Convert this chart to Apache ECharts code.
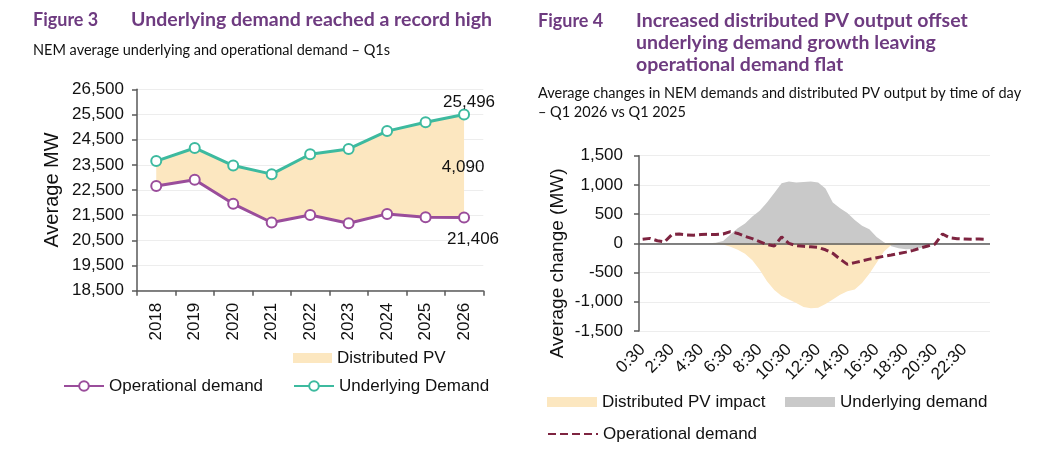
<!DOCTYPE html>
<html><head><meta charset="utf-8">
<script src="https://cdn.jsdelivr.net/npm/echarts@6/dist/echarts.min.js"></script>
<style>html,body{margin:0;padding:0;background:#fff}#c{width:1059px;height:466px}</style>
</head><body><div id="c"></div>
<script>
// ---- Figure 3 data ----
const years = ['2018','2019','2020','2021','2022','2023','2024','2025','2026'];
const operationalDemand = [22660, 22910, 21950, 21210, 21510, 21180, 21550, 21420, 21406];
const underlyingDemand = [23650, 24170, 23470, 23130, 23920, 24130, 24840, 25190, 25496];

// ---- Figure 4 data ----
const times = ['0:30','1:00','1:30','2:00','2:30','3:00','3:30','4:00','4:30','5:00','5:30','6:00',
  '6:30','7:00','7:30','8:00','8:30','9:00','9:30','10:00','10:30','11:00','11:30','12:00',
  '12:30','13:00','13:30','14:00','14:30','15:00','15:30','16:00','16:30','17:00','17:30','18:00',
  '18:30','19:00','19:30','20:00','20:30','21:00','21:30','22:00','22:30','23:00','23:30','0:00'];
const underlyingChange = [0,0,0,0,0,0,0,0,0,0,10,40,
  150,260,340,460,560,700,860,1030,1060,1040,1050,1060,
  1040,940,700,600,520,400,300,240,110,20,-50,-85,
  -100,-95,-80,-45,-5,0,0,0,0,0,0,0];
const pvImpact = [0,0,0,0,0,0,0,0,0,0,-5,-20,
  -60,-110,-180,-290,-450,-650,-800,-900,-960,-1020,-1090,-1110,
  -1100,-1040,-960,-880,-820,-790,-680,-520,-330,-140,-30,0,
  0,0,0,0,0,0,0,0,0,0,0,0];
const operationalChange = [70,85,45,25,150,160,145,140,150,155,150,160,
  200,170,120,80,30,-20,-45,110,0,-40,-50,-60,
  -70,-110,-170,-270,-360,-330,-300,-270,-245,-220,-200,-175,
  -150,-120,-80,-45,-10,160,95,80,75,70,75,70];

const pvGap = underlyingDemand.map((u, i) => u - operationalDemand[i]);

const fmt = v => String(v).replace(/\B(?=(\d{3})+(?!\d))/g, ',');
const AX = '#595959';
const TXT = '#111';
const FF = 'Liberation Sans';
const PURPLE_T = '#6E3B80';
const TEAL = '#3DBA9F';
const PURP = '#9A4D9B';
const CREAM = '#FCE7C0';
const GRAY = '#C9C9C9';
const DASH = '#7E2440';
const TF = 'bold 19.5px Lato';
const FIGF = 'bold 18px Lato';
const SF = '14.5px Lato';

function leg(name, left, cy, opts) {
  return Object.assign({
    data: [name], left: left, top: cy - 10, padding: 0, itemGap: 0,
    selectedMode: false,
    textStyle: {fontFamily: FF, fontSize: 17, lineHeight: 20, color: TXT}
  }, opts);
}
function lastLabel(arr, lab) {
  return arr.map((v, i) => i === arr.length - 1 ? {value: v, label: Object.assign({show: true, formatter: p => fmt(p.value), fontFamily: FF, fontSize: 17, color: TXT}, lab)} : v);
}

const chart = echarts.init(document.getElementById('c'));
chart.setOption({
  backgroundColor: '#fff',
  animation: false,
  graphic: [
    {type:'text', left: 33, top: 11, style:{text:'Figure 3', font: FIGF, fill: PURPLE_T}},
    {type:'text', left: 131, top: 10, style:{text:'Underlying demand reached a record high', font: TF, fill: PURPLE_T}},
    {type:'text', left: 33, top: 43, style:{text:'NEM average underlying and operational demand \u2013 Q1s', font: SF, fill: TXT}},
    {type:'text', left: 538, top: 12, style:{text:'Figure 4', font: FIGF, fill: PURPLE_T}},
    {type:'text', left: 636, top: 11, style:{text:'Increased distributed PV output offset', font: TF, fill: PURPLE_T}},
    {type:'text', left: 636, top: 33, style:{text:'underlying demand growth leaving', font: TF, fill: PURPLE_T}},
    {type:'text', left: 636, top: 55, style:{text:'operational demand flat', font: TF, fill: PURPLE_T}},
    {type:'text', left: 538, top: 86, style:{text:'Average changes in NEM demands and distributed PV output by time of day', font: SF, fill: TXT}},
    {type:'text', left: 538, top: 105, style:{text:'\u2013 Q1 2026 vs Q1 2025', font: SF, fill: TXT}}
  ],
  legend: [
    leg('Distributed PV', 293, 358, {icon:'rect', itemWidth: 39, itemHeight: 10}),
    leg('Operational demand', 63, 386, {itemWidth: 40, itemHeight: 12}),
    leg('Underlying Demand', 293, 386, {itemWidth: 40, itemHeight: 12}),
    leg('Distributed PV impact', 547, 402, {icon:'rect', itemWidth: 50, itemHeight: 10}),
    leg('Underlying demand', 785, 402, {icon:'rect', itemWidth: 50, itemHeight: 10}),
    leg('Operational demand ', 547, 434, {itemWidth: 50, itemHeight: 12, itemStyle:{opacity:0}})
  ],
  grid: [
    {left: 137, top: 89.3, width: 346.3, height: 201.4},
    {left: 639, top: 155.7, width: 351, height: 175.3}
  ],
  xAxis: [
    {type:'category', gridIndex: 0, data: years, boundaryGap: true,
      axisLine:{lineStyle:{color: AX, width: 1.5}},
      axisTick:{show:true, length: 5, lineStyle:{color: AX, width: 1.5}},
      axisLabel:{rotate: 90, margin: 12, fontFamily: FF, fontSize: 17, color: TXT}},
    {type:'category', gridIndex: 1, data: times, boundaryGap: true,
      axisLine:{show:false, onZero:false},
      axisTick:{show:false},
      axisLabel:{rotate: 45, interval: 3, margin: 16, fontFamily: FF, fontSize: 17, color: TXT}}
  ],
  yAxis: [
    {type:'value', gridIndex: 0, min: 18500, max: 26500, interval: 1000,
      name: 'Average MW', nameLocation: 'middle', nameGap: 75,
      nameTextStyle:{fontFamily: FF, fontSize: 20, color: TXT},
      axisLine:{show:true, lineStyle:{color: AX, width: 1.5}},
      axisTick:{show:true, length: 5, lineStyle:{color: AX, width: 1.5}},
      splitLine:{lineStyle:{color:'#EDEDED', width: 1}},
      axisLabel:{margin: 13, fontFamily: FF, fontSize: 17, color: TXT, formatter: fmt}},
    {type:'value', gridIndex: 1, min: -1500, max: 1500, interval: 500,
      name: 'Average change (MW)', nameLocation: 'middle', nameGap: 72,
      nameTextStyle:{fontFamily: FF, fontSize: 19, color: TXT, padding:[0, 40, 0, 0]},
      axisLine:{show:true, lineStyle:{color: AX, width: 1.5}},
      axisTick:{show:true, length: 5, lineStyle:{color: AX, width: 1.5}},
      splitLine:{lineStyle:{color:'#EDEDED', width: 1}},
      axisLabel:{margin: 16, fontFamily: FF, fontSize: 17, color: TXT, formatter: fmt}}
  ],
  series: [
    {name:'pvBase', type:'line', xAxisIndex:0, yAxisIndex:0, stack:'pv', data: operationalDemand,
      symbol:'none', lineStyle:{width:0, opacity:0}, silent:true},
    {name:'Distributed PV', type:'line', xAxisIndex:0, yAxisIndex:0, stack:'pv',
      data: lastLabel(pvGap, {position:'bottom', distance:44, offset:[-1,0]}),
      symbol:'circle', symbolSize: 1, showSymbol: true, itemStyle:{color: CREAM}, lineStyle:{width:0}, areaStyle:{color: CREAM, opacity:1}},
    {name:'Operational demand', type:'line', xAxisIndex:0, yAxisIndex:0,
      data: lastLabel(operationalDemand, {position:'bottom', distance:10, offset:[9,-3]}),
      symbol:'emptyCircle', symbolSize: 10, itemStyle:{color: PURP, borderWidth: 1.5}, lineStyle:{color: PURP, width: 3}, z: 3},
    {name:'Underlying Demand', type:'line', xAxisIndex:0, yAxisIndex:0,
      data: lastLabel(underlyingDemand, {position:'top', distance:5, offset:[5,7]}),
      symbol:'emptyCircle', symbolSize: 10, itemStyle:{color: TEAL, borderWidth: 1.5}, lineStyle:{color: TEAL, width: 3}, z: 3},

    {name:'Underlying demand', type:'line', xAxisIndex:1, yAxisIndex:1, data: underlyingChange,
      symbol:'none', itemStyle:{color: GRAY}, lineStyle:{width:0}, areaStyle:{color: GRAY, opacity:1}},
    {name:'Distributed PV impact', type:'line', xAxisIndex:1, yAxisIndex:1, data: pvImpact,
      symbol:'none', itemStyle:{color: CREAM}, lineStyle:{width:0}, areaStyle:{color: CREAM, opacity:1},
      markLine:{silent:true, symbol:'none', label:{show:false}, lineStyle:{color: AX, type:'solid', width:1.5}, data:[{yAxis:0}]}},
    {name:'Operational demand ', type:'line', xAxisIndex:1, yAxisIndex:1, data: operationalChange,
      symbol:'none', itemStyle:{color: DASH}, lineStyle:{color: DASH, width: 3, type:[8,4]}, z: 6}
  ]
});
</script></body></html>
